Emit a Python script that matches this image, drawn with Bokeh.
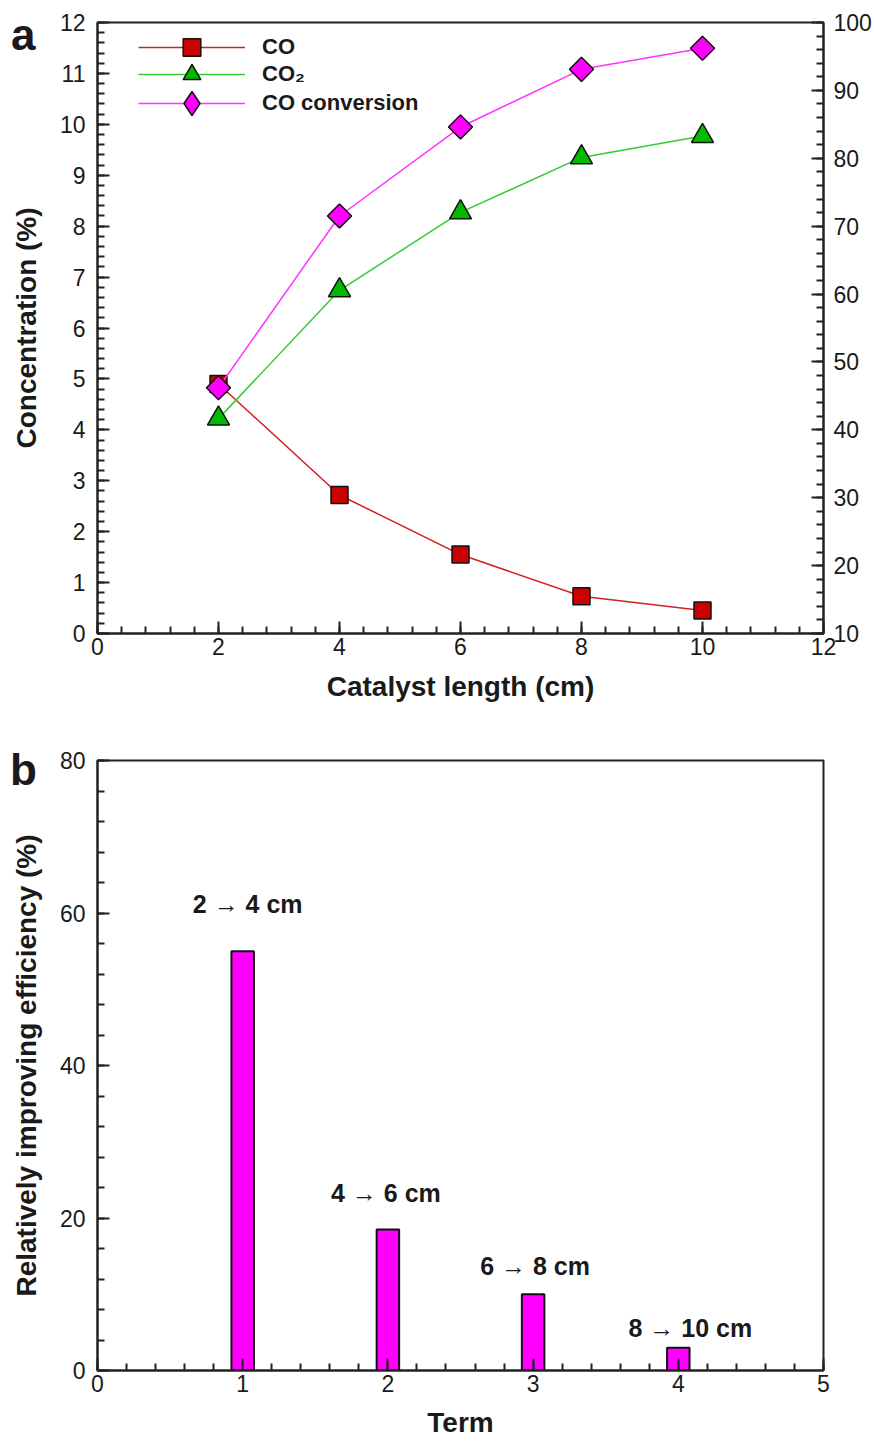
import math
from bokeh.plotting import figure
from bokeh.models import (Range1d, LinearAxis, SingleIntervalTicker, Legend, LegendItem,
                          ColumnDataSource, LabelSet, Div)
from bokeh.core.properties import value
from bokeh.layouts import column
from bokeh.embed import file_html
from bokeh.resources import INLINE

# ---------------- data ----------------
length_cm = [2, 4, 6, 8, 10]
co_conc = [4.9, 2.72, 1.55, 0.73, 0.45]
co2_conc = [4.22, 6.74, 8.27, 9.35, 9.77]
co_conversion = [46.2, 71.5, 84.6, 93.1, 96.2]

terms = [1, 2, 3, 4]
improving_eff = [55.0, 18.5, 10.0, 3.0]
term_labels = ["2 \u2192 4 cm", "4 \u2192 6 cm", "6 \u2192 8 cm", "8 \u2192 10 cm"]

FONT = "Liberation Sans"
INK = "#1a1a1a"


def style_axis(ax, interval):
    ax.ticker = SingleIntervalTicker(interval=interval, num_minor_ticks=5)
    ax.axis_line_width = 2
    ax.axis_line_color = "#222222"
    ax.major_tick_in = 12
    ax.major_tick_out = 0
    ax.minor_tick_in = 7
    ax.minor_tick_out = 0
    ax.major_tick_line_width = 2
    ax.minor_tick_line_width = 2
    ax.major_tick_line_color = "#222222"
    ax.minor_tick_line_color = "#222222"
    ax.major_label_text_font = FONT
    ax.major_label_text_font_size = "23px"
    ax.major_label_text_color = INK
    ax.axis_label_text_font = FONT
    ax.axis_label_text_font_style = "bold"
    ax.axis_label_text_font_size = "28px"
    ax.axis_label_text_color = INK


def base_fig(xr, yr, top, bottom, height_frame):
    p = figure(frame_width=726, frame_height=height_frame,
               x_range=xr, y_range=yr,
               output_backend="svg", toolbar_location=None,
               min_border_left=97, min_border_right=51,
               min_border_top=top, min_border_bottom=bottom)
    p.xgrid.visible = False
    p.ygrid.visible = False
    p.outline_line_color = "#222222"
    p.outline_line_width = 2
    p.background_fill_color = "white"
    p.border_fill_color = "white"
    return p


def make_legend(item, loc, gh):
    lg = Legend(items=[item], location=loc)
    lg.border_line_color = None
    lg.background_fill_alpha = 0
    lg.glyph_width = 107
    lg.glyph_height = gh
    lg.spacing = 0
    lg.padding = 0
    lg.margin = 0
    lg.label_standoff = 17
    lg.label_text_font = FONT
    lg.label_text_font_style = "bold"
    lg.label_text_font_size = "22px"
    lg.label_text_color = INK
    lg.inactive_fill_alpha = 0
    return lg


# ---------------- panel a ----------------
p1 = base_fig(Range1d(0, 12), Range1d(0, 12), 22, 82, 611)
p1.extra_y_ranges = {"conv": Range1d(10, 100)}

style_axis(p1.xaxis[0], 2)
style_axis(p1.yaxis[0], 1)
p1.xaxis[0].axis_label = "Catalyst length (cm)"
p1.yaxis[0].axis_label = "Concentration (%)"
p1.xaxis[0].major_label_standoff = 4
p1.xaxis[0].axis_label_standoff = 13
p1.yaxis[0].major_label_standoff = 12
p1.yaxis[0].axis_label_standoff = 15

ax_r = LinearAxis(y_range_name="conv")
style_axis(ax_r, 10)
ax_r.major_label_standoff = 10
p1.add_layout(ax_r, "right")

src = ColumnDataSource(dict(x=length_cm, co=co_conc, co2=co2_conc, conv=co_conversion))

l_co = p1.line("x", "co", source=src, line_color="#d42020", line_width=1.5)
m_co = p1.scatter("x", "co", source=src, marker="square", size=17,
                  fill_color="#cc0000", line_color="#111111", line_width=1.5)
l_co2 = p1.line("x", "co2", source=src, line_color="#33cc33", line_width=1.5)
m_co2 = p1.scatter("x", "co2", source=src, marker="triangle", size=22,
                   fill_color="#00bb00", line_color="#111111", line_width=1.5)
l_cv = p1.line("x", "conv", source=src, y_range_name="conv",
               line_color="#ff33ff", line_width=1.5)
m_cv = p1.scatter("x", "conv", source=src, y_range_name="conv", marker="square",
                  angle=math.pi / 4, size=17,
                  fill_color="#ff00ff", line_color="#111111", line_width=1.5)
# legend-key renderer: same data, hidden in the plot, drawn as a diamond in the legend
key_cv = p1.scatter("x", "conv", source=src, y_range_name="conv", marker="diamond",
                    fill_color="#ff00ff", line_color="#111111", line_width=1.5)
key_cv.visible = False

p1.add_layout(make_legend(LegendItem(label="CO", renderers=[l_co, m_co]), (41, 564), 44), "center")
p1.add_layout(make_legend(LegendItem(label="CO\u2082", renderers=[l_co2, m_co2]), (41, 537), 44), "center")
p1.add_layout(make_legend(LegendItem(label="CO conversion", renderers=[l_cv, key_cv]), (41, 500), 60), "center")

# ---------------- panel b ----------------
p2 = base_fig(Range1d(0, 5), Range1d(0, 80), 45, 71, 610)
style_axis(p2.xaxis[0], 1)
style_axis(p2.yaxis[0], 20)
p2.xaxis[0].axis_label = "Term"
p2.yaxis[0].axis_label = "Relatively improving efficiency (%)"
p2.xaxis[0].major_label_standoff = 4
p2.xaxis[0].axis_label_standoff = 12
p2.yaxis[0].major_label_standoff = 12
p2.yaxis[0].axis_label_standoff = 15

bsrc = ColumnDataSource(dict(term=terms, eff=improving_eff, lab=term_labels,
                             dy=[38, 27, 19, 11], dx=[5, -2, 2, 12]))
p2.vbar(x="term", top="eff", bottom=0, width=0.155, source=bsrc,
        fill_color="#ff00ff", line_color="#111111", line_width=2)
p2.add_layout(LabelSet(x="term", y="eff", text="lab", source=bsrc,
                       x_offset="dx", y_offset="dy",
                       text_align="center", text_baseline="alphabetic",
                       text_font=value(FONT), text_font_style="bold",
                       text_font_size="25px", text_color=INK))

# ---------------- panel letters ----------------
letter_style = {"position": "absolute", "font-family": FONT, "font-weight": "bold",
                "font-size": "44px", "line-height": "1", "color": INK,
                "margin": "0", "padding": "0", "z-index": "10"}
div_a = Div(text="a", styles=dict(letter_style, left="11px", top="13px"))
div_b = Div(text="b", styles=dict(letter_style, left="10px", top="748px"))

layout = column(p1, p2, div_a, div_b, spacing=0)
open("out.html", "w").write(file_html(layout, INLINE))
